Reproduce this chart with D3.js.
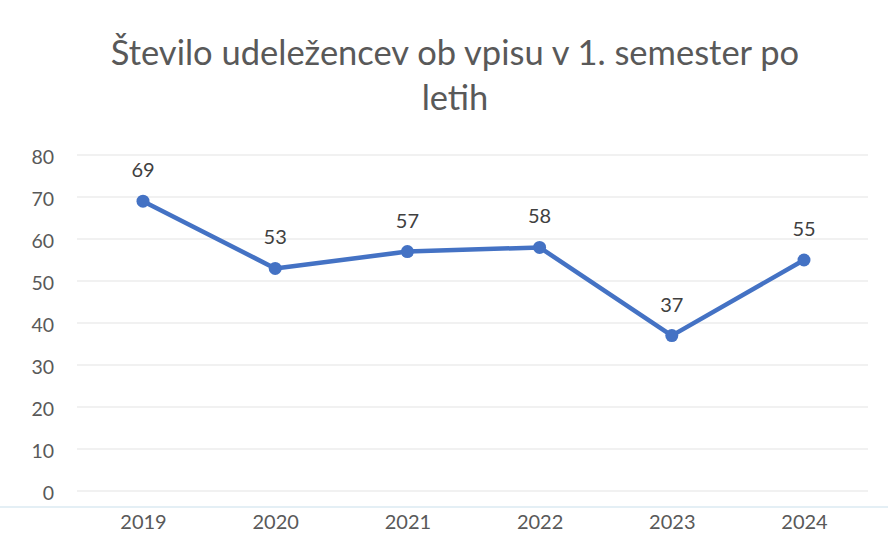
<!DOCTYPE html>
<html><head><meta charset="utf-8">
<script src="https://cdn.jsdelivr.net/npm/d3@7"></script>
<style>body{margin:0;background:#fff}svg{display:block}</style>
</head><body>
<script>
const categories = ["2019","2020","2021","2022","2023","2024"];
const values = [69, 53, 57, 58, 37, 55];
const yTicks = [0,10,20,30,40,50,60,70,80];
const titleLines = ["Število udeležencev ob vpisu v 1. semester po", "letih"];

const W = 888, H = 547;
const svg = d3.select("body").append("svg").attr("width", W).attr("height", H);
const font = "Lato, Carlito, Calibri, sans-serif";
const txt = "#595959";

const x = d3.scalePoint().domain(categories).range([143, 804]);
const y = d3.scaleLinear().domain([0, 80]).range([491, 155]);

// title
svg.append("g").selectAll("text").data(titleLines).join("text")
  .attr("x", 455).attr("y", (d,i) => 65 + i*45)
  .attr("text-anchor", "middle").attr("font-family", font).attr("font-size", 34.5)
  .attr("fill", txt).text(d => d);

// gridlines
svg.append("g").selectAll("line").data(yTicks).join("line")
  .attr("x1", 77).attr("x2", 868).attr("y1", d => y(d)).attr("y2", d => y(d))
  .attr("stroke", "#e3e3e3").attr("stroke-width", 1);

// y axis labels
const yAxis = d3.axisLeft(y).tickValues(yTicks).tickSize(0).tickPadding(0);
const gy = svg.append("g").attr("transform", "translate(54,2)").call(yAxis);
gy.select(".domain").remove();
gy.selectAll("text").attr("font-family", font).attr("font-size", 19.5).attr("fill", txt);

// x axis labels
const xAxis = d3.axisBottom(x).tickSize(0).tickPadding(0);
const gx = svg.append("g").attr("transform", "translate(0,515)").call(xAxis);
gx.select(".domain").remove();
gx.selectAll("text").attr("font-family", font).attr("font-size", 20).attr("fill", txt);

// faint scan line
svg.append("line").attr("x1", 0).attr("x2", W).attr("y1", 507).attr("y2", 507)
  .attr("stroke", "#dbeaf2").attr("stroke-width", 1.5);

// line
const line = d3.line().x((d,i) => x(categories[i])).y(d => y(d));
svg.append("path").datum(values).attr("d", line)
  .attr("fill", "none").attr("stroke", "#4472C4").attr("stroke-width", 4.5)
  .attr("stroke-linejoin", "round").attr("stroke-linecap", "round");

svg.append("g").selectAll("circle").data(values).join("circle")
  .attr("cx", (d,i) => x(categories[i])).attr("cy", d => y(d)).attr("r", 6.5)
  .attr("fill", "#4472C4");

// data labels
svg.append("g").selectAll("text").data(values).join("text")
  .attr("x", (d,i) => x(categories[i])).attr("y", d => y(d) - 24)
  .attr("text-anchor", "middle").attr("font-family", font).attr("font-size", 20)
  .attr("fill", "#404040").text(d => d);
</script>
</body></html>
